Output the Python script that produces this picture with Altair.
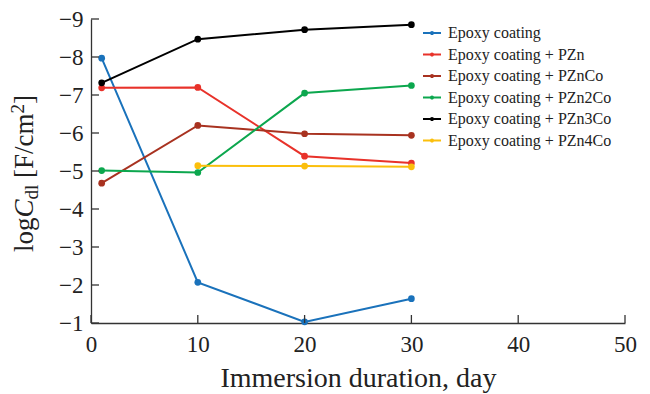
import altair as alt
import pandas as pd

# ---- data ----
series_names = [
    "Epoxy coating",
    "Epoxy coating + PZn",
    "Epoxy coating + PZnCo",
    "Epoxy coating + PZn2Co",
    "Epoxy coating + PZn3Co",
    "Epoxy coating + PZn4Co",
]
series_colors = ["#1a72bb", "#e8322a", "#a83220", "#0ca74e", "#000000", "#fbbf0c"]

days = [1, 10, 20, 30]
epoxy = [-7.97, -2.07, -1.03, -1.64]
pzn = [-7.19, -7.20, -5.39, -5.21]
pznco = [-4.68, -6.20, -5.98, -5.94]
pzn2co = [-5.01, -4.96, -7.05, -7.25]
pzn3co = [-7.32, -8.47, -8.72, -8.85]
days_4co = [10, 20, 30]
pzn4co = [-5.14, -5.13, -5.11]

x_ticks = [0, 10, 20, 30, 40, 50]
y_ticks = [-9, -8, -7, -6, -5, -4, -3, -2, -1]

rows = []
for name, xs, ys in [
    (series_names[0], days, epoxy),
    (series_names[1], days, pzn),
    (series_names[2], days, pznco),
    (series_names[3], days, pzn2co),
    (series_names[4], days, pzn3co),
    (series_names[5], days_4co, pzn4co),
]:
    for xv, yv in zip(xs, ys):
        rows.append({"series": name, "day": xv, "val": yv})
df = pd.DataFrame(rows)

W, H = 534, 304
FONT = "Liberation Serif"
TXT = "#222222"

xscale = alt.Scale(domain=[0, 50], nice=False, zero=False)
yscale = alt.Scale(domain=[-9, -1], reverse=True, nice=False, zero=False)

legend = alt.Legend(
    title=None,
    orient="none",
    legendX=331,
    legendY=4,
    symbolType="M-1,0H1M-0.12,0A0.12,0.12 0 1,0 0.12,0A0.12,0.12 0 1,0 -0.12,0",
    symbolSize=324,
    symbolStrokeWidth=2,
    labelFont=FONT,
    labelFontSize=16,
    labelColor=TXT,
    labelOffset=6,
    labelLimit=400,
    rowPadding=3.5,
    padding=0,
)
color = alt.Color("series:N", scale=alt.Scale(domain=series_names, range=series_colors), legend=legend)

x_axis = alt.Axis(
    values=x_ticks, format="d", tickSize=0, labelPadding=10, labelFlush=False, grid=False,
    title="Immersion duration, day", titlePadding=8,
)
y_axis = alt.Axis(values=y_ticks, format="d", tickSize=0, labelPadding=8, labelFlush=False,
                  grid=False, title=None)

def xe(field):
    return alt.X(field, type="quantitative", scale=xscale, axis=x_axis)

def ye(field):
    return alt.Y(field, type="quantitative", scale=yscale, axis=y_axis)

base = alt.Chart(df)
lines = base.mark_line(strokeWidth=2).encode(x=xe("day"), y=ye("val"), color=color, detail="series:N")
points = base.mark_circle(size=45, opacity=1).encode(x=xe("day"), y=ye("val"), color=color)

# inward tick marks
xt = alt.Chart(pd.DataFrame({"day": x_ticks})).mark_rule(color="#333333", strokeWidth=1.3).encode(
    x=xe("day"), y=alt.value(H), y2=alt.value(H - 8)
)
yt = alt.Chart(pd.DataFrame({"val": y_ticks})).mark_rule(color="#333333", strokeWidth=1.3).encode(
    y=ye("val"), x=alt.value(0), x2=alt.value(8)
)

# y-axis title composed of pieces (rotated)
one = pd.DataFrame({"a": [0]})
def piece(txt, ypos, xpos, size, style="normal"):
    return alt.Chart(one).mark_text(
        text=txt, angle=270, align="left", baseline="alphabetic",
        font=FONT, fontSize=size, fontStyle=style, color=TXT,
    ).encode(x=alt.value(xpos), y=alt.value(ypos))

TS = 27
SS = 19
y0 = 233
p_log = piece("log", y0, -58, TS)
y1 = y0 - 1.278 * TS
p_C = piece("C", y1, -58, TS, "italic")
y2 = y1 - 0.667 * TS
p_dl = piece("dl", y2, -53, SS)
y3 = y2 - 0.778 * SS - 0.25 * TS
p_F = piece("[F/cm", y3, -58, TS)
y4 = y3 - 2.389 * TS
p_2 = piece("2", y4, -67, SS)
y5 = y4 - 0.5 * SS
p_br = piece("]", y5, -58, TS)

chart = alt.layer(
    lines, points, xt, yt, p_log, p_C, p_dl, p_F, p_2, p_br
).properties(
    width=W,
    height=H,
    autosize=alt.AutoSizeParams(type="none"),
    padding={"left": 83, "top": 11, "right": 15, "bottom": 71},
    background="white",
).configure_view(strokeWidth=0).configure_axis(
    domainColor="#333333",
    domainWidth=1.3,
    labelFont=FONT,
    labelFontSize=23,
    labelColor=TXT,
    titleFont=FONT,
    titleFontSize=28,
    titleFontWeight="normal",
    titleColor=TXT,
).configure_legend(
    labelFont=FONT,
    labelFontSize=16,
    labelColor=TXT,
    labelLimit=400,
)

chart.save("out.html", embed_options={"renderer": "svg", "actions": False})
